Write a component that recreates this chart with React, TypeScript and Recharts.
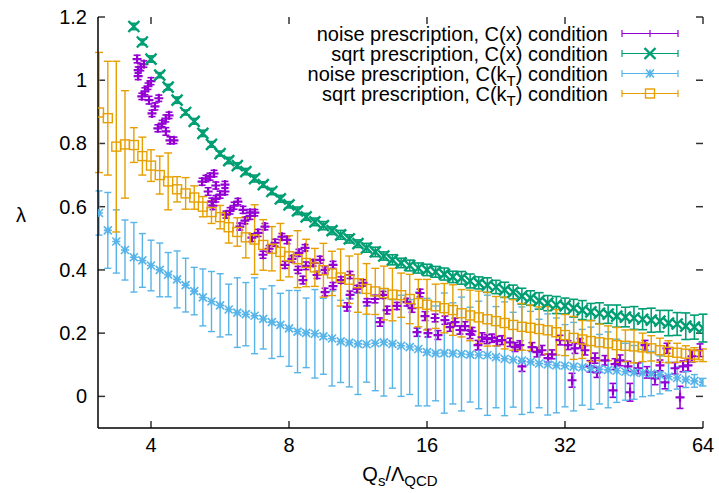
import { ScatterChart, Scatter, XAxis, YAxis, ErrorBar, Legend, ReferenceLine } from 'recharts';

document.body.style.margin = '0';

const FONT = '"Liberation Sans", Arial, Helvetica, sans-serif';
const PURPLE = '#9400d3';
const GREEN = '#009e73';
const BLUE = '#56b4e9';
const ORANGE = '#e69f00';

const X_DOMAIN: [number, number] = [3.065, 64];
const Y_DOMAIN: [number, number] = [-0.1, 1.2];
const X_TICKS = [4, 8, 16, 32, 64];
const Y_TICKS = [0, 0.2, 0.4, 0.6, 0.8, 1, 1.2];

// Q_s / Lambda_QCD sampling shared by the three smooth series
const QS = [
  3.08, 3.22, 3.36, 3.51, 3.67, 3.83,
  4, 4.18, 4.36, 4.56, 4.76, 4.97, 5.19, 5.42, 5.66, 5.91, 6.17, 6.44, 6.73, 7.03, 7.34, 7.66,
  8, 8.35, 8.72, 9.11, 9.51, 9.93, 10.37, 10.83, 11.31, 11.81, 12.34, 12.88, 13.45, 14.05, 14.67, 15.32,
  16, 16.71, 17.45, 18.22, 19.03, 19.87, 20.75, 21.67, 22.63, 23.63, 24.67, 25.77, 26.91, 28.1, 29.34, 30.64,
  32, 33.42, 34.9, 36.44, 38.05, 39.74, 41.5, 43.34, 45.25, 47.26, 49.35, 51.54, 53.82, 56.2, 58.69, 61.29,
  64,
];

// sqrt prescription, C(x) condition
const GREEN_Y = [
  null, null, null, null,
  1.17, 1.121, 1.067, 1.016, 0.978, 0.937, 0.898, 0.87, 0.832, 0.797, 0.768, 0.746, 0.73, 0.711, 0.689, 0.67, 0.648,
  0.625, 0.606, 0.587, 0.568, 0.552, 0.54, 0.524, 0.511, 0.498, 0.483, 0.47, 0.457, 0.444, 0.432, 0.422, 0.414, 0.406, 0.4, 0.394, 0.387,
  0.378, 0.375, 0.365, 0.359, 0.352, 0.346, 0.337, 0.33, 0.317, 0.311, 0.302, 0.295, 0.289, 0.286, 0.279,
  0.273, 0.267, 0.263, 0.26, 0.254, 0.251, 0.248, 0.244, 0.241, 0.238, 0.232, 0.229, 0.222, 0.219, 0.216,
];
const GREEN_E = [
  null, null, null, null,
  0.01, 0.009, 0.01, 0.008, 0.009, 0.01, 0.008, 0.009, 0.01, 0.009, 0.008, 0.01, 0.009, 0.01, 0.011, 0.009, 0.01,
  0.011, 0.01, 0.012, 0.011, 0.012, 0.013, 0.012, 0.014, 0.013, 0.012, 0.014, 0.015, 0.013, 0.016, 0.015, 0.017, 0.016, 0.018, 0.017, 0.019,
  0.018, 0.02, 0.022, 0.019, 0.023, 0.021, 0.024, 0.022, 0.025, 0.023, 0.026, 0.024, 0.027, 0.025, 0.028,
  0.03, 0.027, 0.033, 0.029, 0.035, 0.031, 0.036, 0.033, 0.038, 0.034, 0.04, 0.036, 0.042, 0.038, 0.044,
];

// noise prescription, C(kT) condition
const BLUE_Y = [
  0.58, 0.525, 0.49, 0.463, 0.44, 0.43, 0.414, 0.4, 0.385, 0.37,
  0.352, 0.333, 0.313, 0.3, 0.288, 0.275, 0.265, 0.26, 0.255, 0.245,
  0.235, 0.226, 0.215, 0.205, 0.201, 0.198, 0.19, 0.183, 0.174, 0.17,
  0.166, 0.165, 0.168, 0.171, 0.166, 0.16, 0.156, 0.15, 0.14, 0.136,
  0.137, 0.136, 0.134, 0.132, 0.131, 0.13, 0.124, 0.119, 0.116, 0.113,
  0.109, 0.104, 0.101, 0.098, 0.097, 0.094, 0.092, 0.089, 0.086, 0.084,
  0.081, 0.078, 0.076, 0.074, 0.072, 0.068, 0.063, 0.058, 0.053, 0.049, 0.045,
];
const BLUE_E = [
  0.07, 0.12, 0.1, 0.095, 0.11, 0.085, 0.08, 0.085, 0.07, 0.09,
  0.085, 0.075, 0.09, 0.095, 0.1, 0.08, 0.11, 0.1, 0.12, 0.095,
  0.115, 0.1, 0.12, 0.13, 0.11, 0.14, 0.12, 0.15, 0.13, 0.14,
  0.16, 0.12, 0.15, 0.17, 0.14, 0.16, 0.15, 0.18, 0.17, 0.15,
  0.19, 0.16, 0.18, 0.15, 0.17, 0.19, 0.16, 0.18, 0.15, 0.17,
  0.16, 0.14, 0.16, 0.15, 0.13, 0.14, 0.12, 0.13, 0.11, 0.12,
  0.1, 0.09, 0.085, 0.075, 0.07, 0.06, 0.045, 0.035, 0.025, 0.02, 0.012,
];

// sqrt prescription, C(kT) condition
const ORANGE_Y = [
  0.898, 0.88, 0.79, 0.797, 0.795, 0.76, 0.73, 0.7, 0.68, 0.655,
  0.642, 0.629, 0.6, 0.583, 0.567, 0.535, 0.52, 0.503, 0.496, 0.479,
  0.467, 0.457, 0.443, 0.434, 0.422, 0.408, 0.399, 0.389, 0.376, 0.369,
  0.358, 0.34, 0.332, 0.327, 0.322, 0.32, 0.308, 0.295, 0.29, 0.285,
  0.279, 0.273, 0.263, 0.256, 0.25, 0.244, 0.238, 0.232, 0.226, 0.22,
  0.217, 0.213, 0.209, 0.203, 0.194, 0.185, 0.18, 0.175, 0.171, 0.168,
  0.162, 0.16, 0.158, 0.155, 0.152, 0.146, 0.141, 0.138, 0.135, 0.132, 0.13,
];
const ORANGE_E = [
  0.19, 0.18, 0.27, 0.17, 0.055, 0.06, 0.05, 0.06, 0.09, 0.04,
  0.05, 0.037, 0.032, 0.036, 0.037, 0.05, 0.045, 0.065, 0.11, 0.08,
  0.07, 0.09, 0.065, 0.09, 0.075, 0.06, 0.085, 0.07, 0.09, 0.075,
  0.092, 0.08, 0.073, 0.085, 0.083, 0.07, 0.078, 0.075, 0.08, 0.07,
  0.078, 0.08, 0.075, 0.08, 0.083, 0.085, 0.078, 0.082, 0.08, 0.074,
  0.072, 0.07, 0.075, 0.072, 0.065, 0.068, 0.06, 0.065, 0.058, 0.055,
  0.056, 0.05, 0.052, 0.045, 0.04, 0.038, 0.035, 0.03, 0.025, 0.022, 0.02,
];

// noise prescription, C(x) condition (own sampling, clustered)
const PURPLE_X = [
  3.73, 3.75, 3.8, 3.86, 3.75, 3.82, 3.88, 3.94, 4.0, 3.96,
  4.02, 4.08, 4.16, 4.14, 4.23, 4.31, 4.38, 4.31, 4.4, 4.49,
  5.17, 5.27, 5.38, 5.49, 5.33, 5.54, 5.8, 5.43, 5.54, 5.66,
  5.8, 5.46, 5.83, 5.95, 6.07, 6.19, 6.35, 6.58, 6.25, 6.41,
  6.58, 6.74, 6.64, 6.85, 7.09, 7.02, 7.24, 7.46, 7.72, 7.92,
  7.84, 8.12, 8.41, 8.67, 8.37, 8.71, 9.03, 9.35, 8.58, 9.21,
  9.59, 9.98, 9.59, 9.98, 10.39, 10.87, 10.87, 11.26, 11.6, 10.71,
  11.84, 12.32, 12.83, 12.64, 13.09, 13.76, 14.47, 14.84, 15.45, 15.84,
  15.22, 16.08, 16.91, 16.66, 17.51, 18.42, 19.36, 18.88, 20.06, 21.09,
  22.18, 23.32, 20.67, 24.28, 25.52, 25.78, 27.11, 28.51, 29.98, 29.38,
  31.21, 32.49, 33.65, 35.38, 33.15, 36.28, 37.58, 39.12, 41.14, 40.72,
  44.36, 43.91, 46.18, 47.83, 48.31, 50.29, 52.88, 53.41, 55.6, 57.89,
  57.02, 60.56, 63.05, 51.57, 21.63, 22.74, 24.9, 27.8, 17.96, 19.86,
  37.21, 42.19, 59.36, 34.51,
];
const PURPLE_Y = [
  1.067, 1.032, 1.041, 1.051, 1.013, 0.949, 0.965, 0.981, 0.997, 0.937,
  0.895, 0.917, 0.943, 0.848, 0.863, 0.879, 0.889, 0.838, 0.81, 0.81,
  0.679, 0.689, 0.695, 0.705, 0.648, 0.667, 0.67, 0.616, 0.625, 0.638,
  0.648, 0.603, 0.575, 0.587, 0.603, 0.616, 0.59, 0.581, 0.537, 0.556,
  0.571, 0.581, 0.502, 0.517, 0.537, 0.448, 0.467, 0.486, 0.505, 0.495,
  0.416, 0.435, 0.454, 0.47, 0.4, 0.413, 0.422, 0.432, 0.368, 0.384,
  0.4, 0.416, 0.33, 0.349, 0.368, 0.384, 0.321, 0.34, 0.359, 0.283,
  0.298, 0.308, 0.321, 0.235, 0.273, 0.286, 0.298, 0.279, 0.327, 0.254,
  0.203, 0.2, 0.194, 0.248, 0.241, 0.235, 0.222, 0.21, 0.206, 0.187,
  0.184, 0.178, 0.162, 0.171, 0.162, 0.095, 0.156, 0.146, 0.133, 0.121,
  0.178, 0.162, 0.152, 0.146, 0.051, 0.095, 0.076, 0.114, 0.102, 0.019,
  0.013, 0.095, 0.089, 0.162, 0.076, 0.057, 0.044, 0.152, 0.089, 0.095,
  -0.003, 0.127, 0.146, 0.098, 0.181, 0.175, 0.156, 0.14, 0.219, 0.197,
  0.121, 0.114, 0.098, 0.168,
];
const PURPLE_E = [
  0.012, 0.01, 0.011, 0.01, 0.011, 0.01, 0.011, 0.01, 0.011, 0.012,
  0.01, 0.011, 0.01, 0.011, 0.01, 0.011, 0.01, 0.012, 0.011, 0.01,
  0.011, 0.01, 0.011, 0.01, 0.012, 0.011, 0.01, 0.011, 0.01, 0.011,
  0.01, 0.012, 0.011, 0.01, 0.011, 0.01, 0.011, 0.01, 0.011, 0.01,
  0.011, 0.01, 0.012, 0.011, 0.01, 0.011, 0.01, 0.011, 0.01, 0.012,
  0.011, 0.01, 0.011, 0.01, 0.011, 0.012, 0.01, 0.011, 0.012, 0.011,
  0.01, 0.011, 0.012, 0.011, 0.01, 0.011, 0.012, 0.011, 0.01, 0.013,
  0.011, 0.012, 0.011, 0.013, 0.012, 0.011, 0.012, 0.013, 0.012, 0.014,
  0.013, 0.012, 0.014, 0.012, 0.013, 0.012, 0.014, 0.013, 0.012, 0.014,
  0.013, 0.014, 0.015, 0.013, 0.014, 0.016, 0.014, 0.015, 0.014, 0.013,
  0.015, 0.014, 0.016, 0.015, 0.022, 0.018, 0.016, 0.015, 0.017, 0.022,
  0.028, 0.016, 0.017, 0.015, 0.018, 0.02, 0.02, 0.016, 0.018, 0.017,
  0.035, 0.018, 0.02, 0.017, 0.014, 0.015, 0.014, 0.015, 0.013, 0.014,
  0.016, 0.017, 0.018, 0.015,
];

type Pt = { x: number; y: number; e: number };

const onGrid = (ys: (number | null)[], es: (number | null)[]): Pt[] =>
  QS.flatMap((x, i) => (ys[i] == null ? [] : [{ x, y: ys[i] as number, e: es[i] as number }]));

const greenData = onGrid(GREEN_Y, GREEN_E);
const blueData = onGrid(BLUE_Y, BLUE_E);
const orangeData = onGrid(ORANGE_Y, ORANGE_E);
const purpleData: Pt[] = PURPLE_X.map((x, i) => ({ x, y: PURPLE_Y[i], e: PURPLE_E[i] }));

// gnuplot-like point types
type Kind = 'plus' | 'cross' | 'star' | 'square';

const MARK: Record<Kind, { s: number; w: number }> = {
  plus: { s: 4.5, w: 2.2 },
  cross: { s: 5.5, w: 2.4 },
  star: { s: 4, w: 1.6 },
  square: { s: 4.5, w: 1.4 },
};

function Marker({ kind, cx, cy, color }: { kind: Kind; cx: number; cy: number; color: string }) {
  const { s, w } = MARK[kind];
  if (kind === 'square') {
    return <rect x={cx - s} y={cy - s} width={2 * s} height={2 * s} fill="none" stroke={color} strokeWidth={w} />;
  }
  const plus = `M${cx - s},${cy}h${2 * s}M${cx},${cy - s}v${2 * s}`;
  const cross = `M${cx - s},${cy - s}l${2 * s},${2 * s}M${cx - s},${cy + s}l${2 * s},${-2 * s}`;
  const d = kind === 'plus' ? plus : kind === 'cross' ? cross : plus + cross;
  return <path d={d} stroke={color} strokeWidth={w} fill="none" />;
}

const shapeOf = (kind: Kind, color: string) => (p: any) =>
  p.cx == null ? <g /> : <Marker kind={kind} cx={p.cx} cy={p.cy} color={color} />;

const SERIES = [
  { key: 'p', data: purpleData, color: PURPLE, kind: 'plus' as Kind, bar: 1.6, cap: 3.5, label: ['noise prescription, C(x) condition'] },
  { key: 'g', data: greenData, color: GREEN, kind: 'cross' as Kind, bar: 1.6, cap: 4.5, label: ['sqrt prescription, C(x) condition'] },
  { key: 'b', data: blueData, color: BLUE, kind: 'star' as Kind, bar: 1.4, cap: 3.5, label: ['noise prescription, C(k', 'T', ') condition'] },
  { key: 'o', data: orangeData, color: ORANGE, kind: 'square' as Kind, bar: 1.4, cap: 4, label: ['sqrt prescription, C(k', 'T', ') condition'] },
];

function LegendBox() {
  return (
    <svg width={420} height={90} style={{ overflow: 'visible' }}>
      {SERIES.map((s, i) => {
        const cy = 13.5 + i * 20;
        return (
          <g key={s.key}>
            <text x={318} y={cy + 7} textAnchor="end" fontSize={20} fontFamily={FONT} fill="#000">
              {s.label[0]}
              {s.label.length > 1 && (
                <>
                  <tspan dy={5} fontSize={15}>{s.label[1]}</tspan>
                  <tspan dy={-5}>{s.label[2]}</tspan>
                </>
              )}
            </text>
            <path
              d={`M332,${cy}H388M332,${cy - 3.5}v7M388,${cy - 3.5}v7`}
              stroke={s.color}
              strokeWidth={1.2}
              fill="none"
            />
            {s.kind !== 'plus' ? (
              <Marker kind={s.kind} cx={360} cy={cy} color={s.color} />
            ) : (
              <path d={`M360,${cy - 3.5}v7`} stroke={s.color} strokeWidth={1.2} />
            )}
          </g>
        );
      })}
    </svg>
  );
}

const xTitle = () => (
  <text x={400} y={481} textAnchor="middle" fontSize={20} fontFamily={FONT} fill="#000">
    Q<tspan dy={5} fontSize={15}>s</tspan>
    <tspan dy={-5}>/Λ</tspan>
    <tspan dy={5} fontSize={15}>QCD</tspan>
  </text>
);

const yTitle = () => (
  <text x={21} y={222} textAnchor="middle" fontSize={20} fontFamily={FONT} fill="#000">
    λ
  </text>
);

const bottomTick = (p: any) => (
  <text x={p.x} y={p.y + 24} textAnchor="middle" fontSize={20} fontFamily={FONT} fill="#000">
    {p.payload.value}
  </text>
);
const leftTick = (p: any) => (
  <text x={p.x - 11} y={p.y + 7} textAnchor="end" fontSize={20} fontFamily={FONT} fill="#000">
    {p.payload.value}
  </text>
);

// inward tick marks on all four sides (about 7px long), in data units
const X_IN = 1.036; // factor along the log axis
const Y_IN = 0.022;
const TICK_STYLE = { stroke: '#333', strokeWidth: 1.5, ifOverflow: 'visible' as const };

const axisLine = { stroke: '#000', strokeWidth: 1.5 };

export default function App() {
  return (
    <div style={{ width: 719, height: 493, background: '#fff', fontFamily: FONT }}>
      <ScatterChart width={719} height={493} margin={{ top: 17, right: 16, left: 0, bottom: 0 }}>
        <XAxis
          dataKey="x"
          type="number"
          scale="log"
          domain={X_DOMAIN}
          allowDataOverflow
          ticks={X_TICKS}
          interval={0}
          height={65}
          axisLine={axisLine}
          tickLine={false}
          tickSize={0}
          tickMargin={0}
          tick={bottomTick}
          label={xTitle}
        />
        <XAxis
          xAxisId="top"
          orientation="top"
          type="number"
          scale="log"
          domain={X_DOMAIN}
          allowDataOverflow
          ticks={X_TICKS}
          height={0}
          axisLine={axisLine}
          tickLine={false}
          tick={false}
        />
        <YAxis
          dataKey="y"
          type="number"
          domain={Y_DOMAIN}
          allowDataOverflow
          ticks={Y_TICKS}
          interval={0}
          width={98}
          axisLine={axisLine}
          tickLine={false}
          tickSize={0}
          tickMargin={0}
          tick={leftTick}
          label={yTitle}
        />
        <YAxis
          yAxisId="right"
          orientation="right"
          type="number"
          domain={Y_DOMAIN}
          allowDataOverflow
          ticks={Y_TICKS}
          width={0}
          axisLine={axisLine}
          tickLine={false}
          tick={false}
        />
        {X_TICKS.map(t => (
          <ReferenceLine key={`xb${t}`} segment={[{ x: t, y: Y_DOMAIN[0] }, { x: t, y: Y_DOMAIN[0] + Y_IN }]} {...TICK_STYLE} />
        ))}
        {X_TICKS.map(t => (
          <ReferenceLine key={`xt${t}`} segment={[{ x: t, y: Y_DOMAIN[1] }, { x: t, y: Y_DOMAIN[1] - Y_IN }]} {...TICK_STYLE} />
        ))}
        {Y_TICKS.map(t => (
          <ReferenceLine key={`yl${t}`} segment={[{ x: X_DOMAIN[0], y: t }, { x: X_DOMAIN[0] * X_IN, y: t }]} {...TICK_STYLE} />
        ))}
        {Y_TICKS.map(t => (
          <ReferenceLine key={`yr${t}`} segment={[{ x: X_DOMAIN[1], y: t }, { x: X_DOMAIN[1] / X_IN, y: t }]} {...TICK_STYLE} />
        ))}
        {SERIES.map(s => (
          <Scatter
            key={s.key}
            data={s.data}
            dataKey="y"
            fill={s.color}
            shape={shapeOf(s.kind, s.color)}
            isAnimationActive={false}
          >
            <ErrorBar dataKey="e" direction="y" width={s.cap} stroke={s.color} strokeWidth={s.bar} />
          </Scatter>
        ))}
        <Legend
          layout="vertical"
          align="center"
          verticalAlign="middle"
          content={() => <LegendBox />}
          wrapperStyle={{ left: 290, top: 20, width: 420, height: 90 }}
        />
      </ScatterChart>
    </div>
  );
}
